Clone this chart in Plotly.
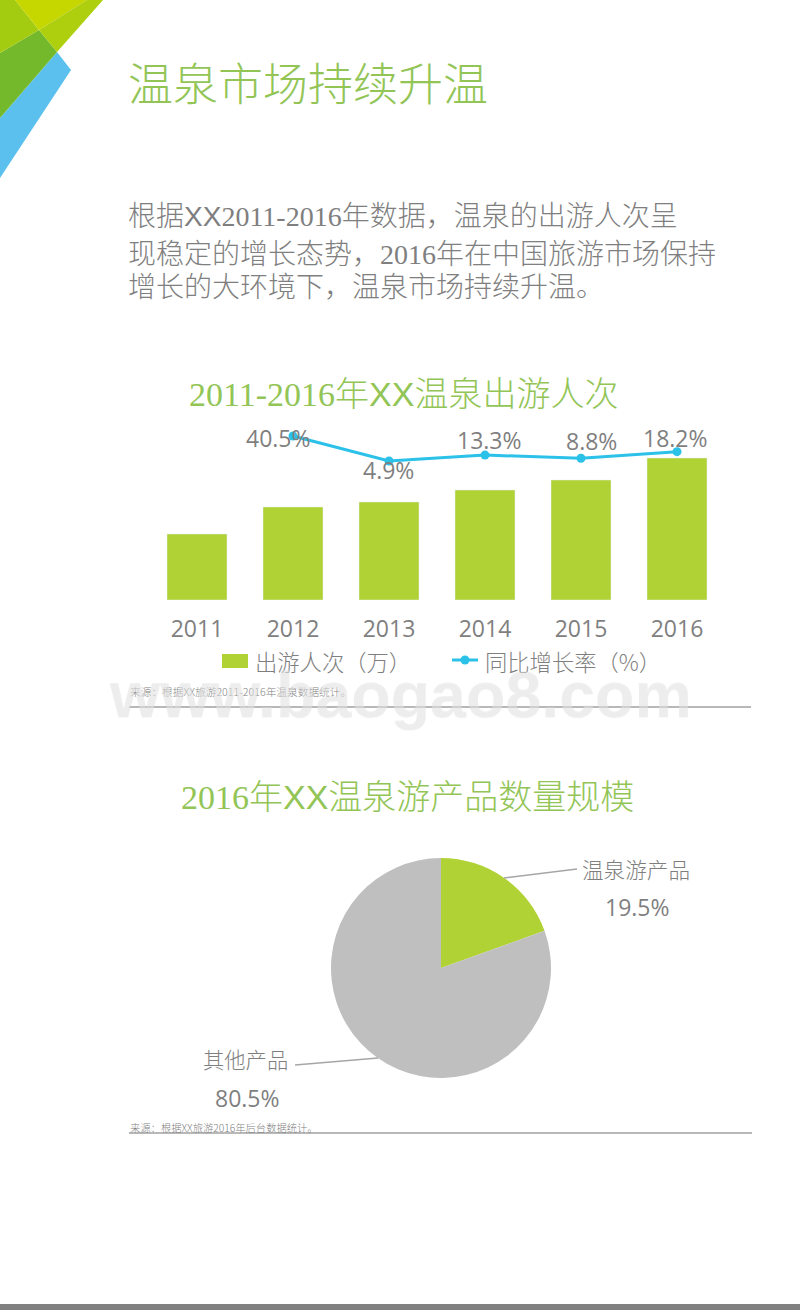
import plotly.graph_objects as go

W, H = 800, 1310
GREY = "#7f7f7f"
TITLE = "#92c556"
LINE = "#2cc1e8"
BAR = "#b0d235"
SERIF = "'Liberation Serif','Noto Sans CJK SC'"
SANS = "'Noto Sans CJK SC','Noto Sans'"
NUM = "'Open Sans','Noto Sans CJK SC'"

years = ["2011", "2012", "2013", "2014", "2015", "2016"]
visits = [66, 93, 98, 110, 120, 142]
growth_years = ["2012", "2013", "2014", "2015", "2016"]
growth = [40.5, 4.9, 13.3, 8.8, 18.2]
growth_labels = ["40.5%", "4.9%", "13.3%", "8.8%", "18.2%"]
label_shift_x = [-15, -1, 4, 10, -2]
label_shift_y = [-2, -9, 15, 17, 14]
legend_names = ["出游人次（万）", "同比增长率（%）"]
pie_labels = ["温泉游产品", "其他产品"]
pie_values = [19.5, 80.5]
XX = "<span style=\"font-family:'Liberation Sans'\">XX</span>"
body_lines = [f"根据{XX}2011-2016年数据，温泉的出游人次呈",
              "现稳定的增长态势，2016年在中国旅游市场保持",
              "增长的大环境下，温泉市场持续升温。"]


def px(x):
    return x / W


def py(y):
    return 1 - y / H


def text(s, x, y, size, color=GREY, family=SANS, anchor="left", weight=300):
    return dict(text=s, x=px(x), y=py(y), xref="paper", yref="paper", xanchor=anchor, yanchor="middle",
                showarrow=False, borderpad=0,
                font=dict(size=size, color=color, family=family, weight=weight))


def poly(points, color):
    path = "M" + " L".join(f"{px(a)},{py(b)}" for a, b in points) + " Z"
    return dict(type="path", path=path, xref="paper", yref="paper", fillcolor=color, line_width=0, layer="below")


def seg(x0, y0, x1, y1, color, width):
    return dict(type="line", x0=px(x0), y0=py(y0), x1=px(x1), y1=py(y1), xref="paper", yref="paper",
                line=dict(color=color, width=width))


fig = go.Figure()
fig.add_bar(x=years, y=visits, name=legend_names[0], marker_color=BAR, width=0.625, yaxis="y", hoverinfo="skip",
            showlegend=False)
fig.add_scatter(x=growth_years, y=growth, name=legend_names[1], mode="lines+markers", yaxis="y2",
                line=dict(color=LINE, width=3), marker=dict(size=9, color=LINE), hoverinfo="skip", showlegend=False)
fig.add_pie(labels=pie_labels, values=pie_values, sort=False, direction="clockwise", rotation=0,
            marker=dict(colors=[BAR, "#bfbfbf"], line=dict(width=0)), textinfo="none", showlegend=False,
            hoverinfo="skip", domain=dict(x=[px(331), px(551)], y=[py(1078), py(858)]))

annotations = [
    text("温泉市场持续升温", 127, 82, 45, TITLE),
    text(body_lines[0], 127, 217, 28, GREY, SERIF),
    text(body_lines[1], 127, 254, 28, GREY, SERIF),
    text(body_lines[2], 127, 288, 28, GREY, SERIF),
    text(f"2011-2016年{XX}温泉出游人次", 403, 394, 34, TITLE, SERIF, "center"),
    text(f"2016年{XX}温泉游产品数量规模", 407, 797, 34, TITLE, SERIF, "center"),
    text("来源：根据XX旅游2011-2016年温泉数据统计。", 129, 692, 10.7),
    text("来源：根据XX旅游2016年后台数据统计。", 129, 1127, 10.3),
    text(pie_labels[0], 581, 868, 21.6),
    text(f"{pie_values[0]}%", 637, 907, 23, GREY, NUM, "center", 400),
    text(pie_labels[1], 202, 1058, 21.3),
    text(f"{pie_values[1]}%", 247, 1098, 23, GREY, NUM, "center", 400),
    text(legend_names[0], 254, 661, 22.3),
    text(legend_names[1], 484, 661, 22.3),
]
for yr, g, lab, dx, dy in zip(growth_years, growth, growth_labels, label_shift_x, label_shift_y):
    annotations.append(dict(text=lab, x=years.index(yr), y=g, xref="x", yref="y2", showarrow=False, xshift=dx, yshift=dy,
                            font=dict(size=23, color=GREY, family=NUM)))
annotations.append(dict(text="www.baogao8.com", x=px(400), y=py(695), xref="paper", yref="paper", showarrow=False,
                        xanchor="center", yanchor="middle",
                        font=dict(size=64.5, color="rgba(228,228,228,0.5)", weight="bold", family="'Liberation Sans'",
                                  shadow="0px 1px 1px rgba(200,200,200,0.3)")))

shapes = [
    poly([(57, 52), (71, 70), (0, 178), (0, 118)], "#5bc0ee"),
    poly([(39, 30), (57, 52), (0, 118), (0, 53)], "#74b92b"),
    poly([(0, 0), (15, 0), (39, 30), (0, 53)], "#a3cb0f"),
    poly([(15, 0), (87, 0), (39, 30)], "#c6d700"),
    poly([(87, 0), (103, 0), (57, 52), (39, 30)], "#aecf0e"),
    poly([(0, 1304), (800, 1304), (800, 1310), (0, 1310)], "#808080"),
    seg(129, 707, 751, 707, "#a0a0a0", 1.5),
    seg(129, 1133, 752, 1133, "#a0a0a0", 1.5),
    seg(504, 878, 577, 869, "#a6a6a6", 1.3),
    seg(295, 1065, 378, 1058, "#a6a6a6", 1.3),
    # legend keys
    dict(type="rect", x0=px(222), x1=px(248), y0=py(668), y1=py(654), xref="paper", yref="paper",
         fillcolor=BAR, line_width=0),
    seg(452, 660, 478, 660, LINE, 3),
    dict(type="circle", x0=px(460.5), x1=px(469.5), y0=py(664.5), y1=py(655.5), xref="paper", yref="paper",
         fillcolor=LINE, line_width=0),
]

fig.update_layout(
    width=W, height=H, margin=dict(l=0, r=0, t=0, b=0), paper_bgcolor="white", plot_bgcolor="rgba(0,0,0,0)",
    font=dict(family=SANS, color=GREY), showlegend=False,
    xaxis=dict(domain=[px(149), px(725)], type="category", categoryorder="array", categoryarray=years,
               range=[-0.5, 5.5], showgrid=False, zeroline=False, showline=False, ticks="",
               ticklabelstandoff=13, tickfont=dict(size=23, color=GREY, family=NUM), anchor="y"),
    yaxis=dict(domain=[py(600), py(430)], range=[0, 170], visible=False),
    yaxis2=dict(domain=[py(600), py(430)], range=[-193.7, 49.1], overlaying="y", visible=False),
    annotations=annotations, shapes=shapes,
)
fig.write_html("out.html", post_script="document.body.style.margin='0';document.documentElement.style.overflow='hidden';",
               config=dict(displayModeBar=False))
